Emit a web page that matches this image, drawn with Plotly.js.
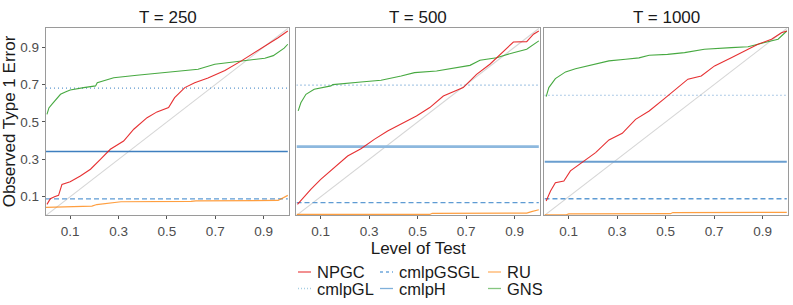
<!DOCTYPE html>
<html>
<head>
<meta charset="utf-8">
<script src="https://cdn.plot.ly/plotly-3.0.1.min.js"></script>
<style>html,body{margin:0;padding:0;background:#fff;}#chart{width:793px;height:305px;}</style>
</head>
<body>
<div id="chart"></div>
<script>
// ---- data ----
var panelTitles = ["T = 250", "T = 500", "T = 1000"];
var seriesNames = ["NPGC", "cmlpGL", "cmlpGSGL", "cmlpH", "RU", "GNS"];
var tickVals = [0.1, 0.3, 0.5, 0.7, 0.9];
var tickText = ["0.1", "0.3", "0.5", "0.7", "0.9"];
var diagX = [0, 1];
var diagY = [0, 1];
var hLineX = [0, 1];

// horizontal (level-independent) methods, one value per panel
var cmlpGL = [0.681, 0.697, 0.643];
var cmlpGSGL = [0.088, 0.068, 0.089];
var cmlpH = [0.342, 0.368, 0.287];

// T = 250
var npgc250X = [0.004, 0.018, 0.035, 0.052, 0.066, 0.10, 0.142, 0.184, 0.225, 0.266, 0.321, 0.363, 0.418, 0.459, 0.507, 0.532, 0.574, 0.615, 0.670, 0.74, 0.808, 0.863, 0.905, 0.96, 1.0];
var npgc250Y = [0.059, 0.089, 0.10, 0.107, 0.166, 0.180, 0.211, 0.247, 0.30, 0.354, 0.398, 0.461, 0.523, 0.554, 0.577, 0.630, 0.684, 0.710, 0.735, 0.775, 0.827, 0.871, 0.907, 0.951, 0.987];
var gns250X = [0.004, 0.012, 0.025, 0.04, 0.06, 0.08, 0.10, 0.156, 0.205, 0.212, 0.266, 0.28, 0.376, 0.445, 0.507, 0.629, 0.698, 0.76, 0.822, 0.905, 0.94, 0.96, 0.985, 1.0];
var gns250Y = [0.541, 0.575, 0.595, 0.62, 0.648, 0.66, 0.671, 0.684, 0.693, 0.71, 0.729, 0.737, 0.75, 0.759, 0.768, 0.782, 0.809, 0.818, 0.830, 0.841, 0.855, 0.871, 0.895, 0.916];
var ru250X = [0, 0.1, 0.19, 0.21, 0.27, 0.31, 0.6, 0.62, 0.96, 0.975, 1.0];
var ru250Y = [0.043, 0.046, 0.05, 0.058, 0.066, 0.073, 0.075, 0.078, 0.08, 0.09, 0.107];

// T = 500
var npgc500X = [0.004, 0.032, 0.06, 0.10, 0.156, 0.211, 0.266, 0.321, 0.376, 0.432, 0.495, 0.55, 0.606, 0.688, 0.743, 0.798, 0.854, 0.895, 0.95, 0.978, 1.0];
var npgc500Y = [0.059, 0.10, 0.14, 0.193, 0.255, 0.318, 0.357, 0.407, 0.452, 0.488, 0.532, 0.577, 0.639, 0.684, 0.755, 0.809, 0.88, 0.928, 0.93, 0.97, 0.987];
var gns500X = [0.007, 0.018, 0.039, 0.073, 0.142, 0.15, 0.266, 0.349, 0.432, 0.487, 0.578, 0.66, 0.716, 0.757, 0.826, 0.895, 0.95, 1.0];
var gns500Y = [0.559, 0.603, 0.648, 0.675, 0.693, 0.70, 0.714, 0.723, 0.746, 0.764, 0.773, 0.791, 0.803, 0.830, 0.844, 0.871, 0.889, 0.934];
var ru500X = [0, 0.55, 0.56, 0.95, 0.97, 1.0];
var ru500Y = [0.005, 0.005, 0.011, 0.012, 0.02, 0.03];

// T = 1000
var npgc1000X = [0.007, 0.025, 0.045, 0.08, 0.107, 0.156, 0.211, 0.266, 0.321, 0.376, 0.432, 0.495, 0.55, 0.592, 0.647, 0.702, 0.771, 0.826, 0.881, 0.937, 0.978, 1.0];
var npgc1000Y = [0.077, 0.130, 0.175, 0.184, 0.238, 0.282, 0.336, 0.404, 0.439, 0.514, 0.559, 0.625, 0.684, 0.729, 0.746, 0.80, 0.844, 0.880, 0.916, 0.943, 0.978, 0.987];
var gns1000X = [0.007, 0.018, 0.045, 0.087, 0.128, 0.197, 0.266, 0.335, 0.39, 0.432, 0.508, 0.578, 0.66, 0.771, 0.84, 0.909, 0.964, 1.0];
var gns1000Y = [0.636, 0.684, 0.732, 0.768, 0.785, 0.804, 0.827, 0.836, 0.843, 0.857, 0.862, 0.871, 0.889, 0.898, 0.903, 0.925, 0.943, 0.987];
var ru1000X = [0, 0.09, 0.1, 0.52, 0.53, 1.0];
var ru1000Y = [0.003, 0.003, 0.008, 0.009, 0.015, 0.016];

// ---- build ----
var FONT = "Liberation Sans, Arial, sans-serif";
var W = 793, H = 305, ML = 46, MR = 5, MT = 28, MB = 90;
var PW = W - ML - MR, PH = H - MT - MB;
function px2x(px) { return (px - ML) / PW; }
function py2y(py) { return (H - MB - py) / PH; }

var npgcX = [npgc250X, npgc500X, npgc1000X], npgcY = [npgc250Y, npgc500Y, npgc1000Y];
var gnsX = [gns250X, gns500X, gns1000X], gnsY = [gns250Y, gns500Y, gns1000Y];
var ruX = [ru250X, ru500X, ru1000X], ruY = [ru250Y, ru500Y, ru1000Y];
var hWidth = [1.3, 2.6, 1.8];
var hColor = ["#3F7FBF", "#8DB8DE", "#6A9ECF"];

var style = {
  NPGC: {color: "rgba(227,26,28,0.9)", width: 1.1, dash: "solid", leg: [298, 272, "rgba(227,26,28,0.75)"]},
  cmlpGL: {color: "#5E98CF", width: 1.1, dash: "1px,3px", leg: [298, 288.5, "#A6CEE3"]},
  cmlpGSGL: {color: "#5E9BD3", width: 1.3, dash: "5px,3px", leg: [380, 272, "#6FA8DC"]},
  cmlpH: {color: "#4A86C0", width: 1.3, dash: "solid", leg: [380, 288.5, "#7FB0DA"]},
  RU: {color: "rgba(255,127,0,0.75)", width: 1.2, dash: "solid", leg: [488, 272, "rgba(255,127,0,0.6)"]},
  GNS: {color: "rgba(51,160,44,0.9)", width: 1.1, dash: "solid", leg: [488, 288.5, "rgba(51,160,44,0.6)"]}
};

var traces = [];
function add(name, p, xs, ys, override) {
  var s = style[name];
  var ax = p === 0 ? "" : String(p + 1);
  var line = {color: s.color, width: s.width, dash: s.dash};
  if (override) { for (var k in override) line[k] = override[k]; }
  traces.push({
    type: "scatter", mode: "lines", name: name, x: xs, y: ys,
    xaxis: "x" + ax, yaxis: "y" + ax, line: line,
    showlegend: false, hoverinfo: "skip"
  });
}
for (var p = 0; p < 3; p++) {
  var ax = p === 0 ? "" : String(p + 1);
  traces.push({type: "scatter", mode: "lines", x: diagX, y: diagY, xaxis: "x" + ax, yaxis: "y" + ax,
    line: {color: "#D6D6D6", width: 1.1}, showlegend: false, hoverinfo: "skip"});
  add("cmlpGL", p, hLineX, [cmlpGL[p], cmlpGL[p]]);
  add("cmlpGSGL", p, hLineX, [cmlpGSGL[p], cmlpGSGL[p]]);
  add("cmlpH", p, hLineX, [cmlpH[p], cmlpH[p]], {width: hWidth[p], color: hColor[p]});
  add("RU", p, ruX[p], ruY[p]);
  add("GNS", p, gnsX[p], gnsY[p]);
  add("NPGC", p, npgcX[p], npgcY[p]);
}

var domains = [[0, 0.3275], [0.3376, 0.6658], [0.6718, 1]];
var layout = {
  width: W, height: H,
  margin: {l: ML, r: MR, t: MT, b: MB},
  paper_bgcolor: "#fff", plot_bgcolor: "#fff",
  font: {family: FONT, size: 13.5, color: "#4D4D4D"},
  showlegend: false,
  annotations: [],
  shapes: []
};

// legend (ggplot style: short key + label, 3 columns x 2 rows)
seriesNames.forEach(function (name) {
  var s = style[name];
  layout.shapes.push({type: "line", xref: "paper", yref: "paper",
    x0: px2x(s.leg[0]), x1: px2x(s.leg[0] + 13), y0: py2y(s.leg[1]), y1: py2y(s.leg[1]),
    line: {color: s.leg[2], width: 1.3, dash: s.dash === "1px,3px" ? "1px,2px" : (s.dash === "5px,3px" ? "3px,3px" : "solid")}});
  layout.annotations.push({text: name, xref: "paper", yref: "paper",
    x: px2x(s.leg[0] + 17), y: py2y(s.leg[1]), xanchor: "left", yanchor: "middle",
    showarrow: false, font: {family: FONT, size: 16.5, color: "#1a1a1a"}});
});

for (var i = 0; i < 3; i++) {
  var ax = i === 0 ? "" : String(i + 1);
  layout["xaxis" + ax] = {
    domain: domains[i], range: [0, 1.005], anchor: "y" + ax,
    tickvals: tickVals, ticktext: tickText, ticks: "outside", ticklen: 3, tickcolor: "#555",
    tickfont: {family: FONT, size: 13.5, color: "#4D4D4D"},
    showgrid: false, zeroline: false, showline: true, mirror: true, linecolor: "#9A9A9A", linewidth: 1.3,
    fixedrange: true
  };
  layout["yaxis" + ax] = {
    range: [0.002, 1.003], anchor: "x" + ax,
    tickvals: tickVals, ticktext: tickText,
    ticks: i === 0 ? "outside" : "", ticklen: 3, tickcolor: "#555",
    showticklabels: i === 0,
    tickfont: {family: FONT, size: 13.5, color: "#4D4D4D"},
    showgrid: false, zeroline: false, showline: true, mirror: true, linecolor: "#9A9A9A", linewidth: 1.3,
    fixedrange: true
  };
  layout.annotations.push({
    text: panelTitles[i], xref: "paper", yref: "paper",
    x: (domains[i][0] + domains[i][1]) / 2, y: 1, xanchor: "center", yanchor: "bottom", yshift: -1,
    showarrow: false, font: {family: FONT, size: 17, color: "#1a1a1a"}
  });
}
layout.xaxis2.title = {text: "Level of Test", font: {family: FONT, size: 17, color: "#1a1a1a"}, standoff: 2};
layout.yaxis.title = {text: "Observed Type 1 Error", font: {family: FONT, size: 17, color: "#1a1a1a"}, standoff: 4};

Plotly.newPlot("chart", traces, layout, {displayModeBar: false, staticPlot: true});
</script>
</body>
</html>
